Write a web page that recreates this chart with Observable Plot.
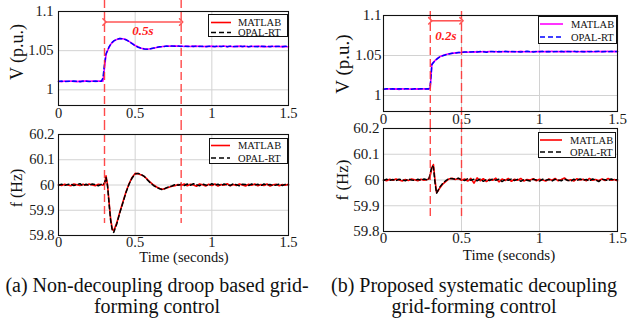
<!DOCTYPE html>
<html><head><meta charset="utf-8">
<script src="https://cdn.jsdelivr.net/npm/d3@7"></script>
<script src="https://cdn.jsdelivr.net/npm/@observablehq/plot@0.6"></script>
<style>
body{margin:0;background:#fff;}
#fig{position:relative;width:629px;height:326px;overflow:hidden;font-family:'Liberation Serif','Times New Roman',serif;color:#111;background:#fff;}
.panel{position:absolute;}
.lbl{position:absolute;white-space:nowrap;line-height:1;}
.ylbl{transform:translate(-50%,-50%) rotate(-90deg);}
.xlbl{transform:translate(-50%,-50%);}
.legend{position:absolute;}
.cap{position:absolute;text-align:center;line-height:21px;transform:translateX(-50%);white-space:nowrap;}
</style></head><body><div id="fig"></div>
<script>
// ---- data ----
const time = [0,0.02,0.04,0.06,0.08,0.1,0.12,0.14,0.16,0.18,0.2,0.22,0.24,0.26,0.28,0.29,0.3,0.31,0.32,0.33,0.34,0.35,0.36,0.38,0.4,0.42,0.44,0.46,0.48,0.5,0.52,0.54,0.56,0.58,0.6,0.62,0.64,0.66,0.68,0.7,0.72,0.74,0.76,0.78,0.8,0.82,0.84,0.86,0.88,0.9,0.92,0.94,0.96,0.98,1,1.02,1.04,1.06,1.08,1.1,1.12,1.14,1.16,1.18,1.2,1.22,1.24,1.26,1.28,1.3,1.32,1.34,1.36,1.38,1.4,1.42,1.44,1.46,1.48,1.5];

// (a) non-decoupling droop
const vMatlabA = [1.0110,1.0104,1.0112,1.0107,1.0113,1.0108,1.0105,1.0111,1.0108,1.0114,1.0109,1.0112,1.0106,1.0111,1.0109,
  1.0110,1.0280,1.0450,1.0500,1.0545,1.0578,1.0603,1.0622,
  1.0643,1.0654,1.0653,1.0641,1.0619,1.0592,1.0566,
  1.0546,1.0531,1.0523,1.0520,1.0524,1.0531,1.0540,1.0547,1.0553,1.0556,1.0559,1.0557,1.0561,1.0556,1.0560,
  1.0554,1.0559,1.0553,1.0558,1.0555,1.0560,1.0551,1.0557,1.0553,1.0558,
  1.0551,1.0556,1.0553,1.0559,1.0552,1.0557,1.0550,1.0555,1.0558,1.0552,
  1.0556,1.0551,1.0557,1.0553,1.0559,1.0552,1.0555,1.0550,1.0556,1.0553,
  1.0557,1.0551,1.0555,1.0552,1.0550];
const vOpalA = [1.0107,1.0112,1.0106,1.0111,1.0108,1.0113,1.0109,1.0104,1.0112,1.0109,1.0106,1.0110,1.0113,1.0107,1.0111,
  1.0150,1.0330,1.0460,1.0505,1.0548,1.0580,1.0606,1.0624,
  1.0645,1.0655,1.0652,1.0639,1.0617,1.0590,1.0564,
  1.0544,1.0530,1.0521,1.0519,1.0525,1.0533,1.0541,1.0549,1.0552,1.0558,1.0556,1.0560,1.0555,1.0559,1.0554,
  1.0558,1.0552,1.0557,1.0554,1.0559,1.0553,1.0556,1.0551,1.0557,1.0554,
  1.0552,1.0558,1.0553,1.0556,1.0551,1.0558,1.0554,1.0552,1.0557,1.0553,
  1.0558,1.0550,1.0556,1.0554,1.0551,1.0557,1.0553,1.0556,1.0551,1.0558,
  1.0553,1.0555,1.0550,1.0556,1.0553];
const fMatlabA = [60.002,59.998,60.003,60.000,59.997,60.004,60.001,59.998,60.003,59.999,60.004,60.000,59.997,60.003,60.001,
  59.999,60.004,60.036,60.000,59.930,59.866,59.828,59.818,
  59.850,59.893,59.933,59.972,60.005,60.030,60.046,
  60.045,60.040,60.033,60.022,60.010,60.000,59.992,59.986,59.983,59.987,59.991,59.995,59.997,60.002,59.998,
  60.004,59.997,60.003,60.000,59.995,60.004,60.001,59.996,60.003,59.998,
  60.004,59.996,60.002,59.999,60.005,59.997,60.002,59.998,60.004,60.000,
  59.996,60.003,59.999,60.004,59.997,60.002,59.998,60.004,59.996,60.001,
  60.003,59.997,60.002,59.999,60.003];
const fOpalA = [59.999,60.003,59.998,60.002,60.004,59.998,60.002,60.005,59.997,60.003,59.998,60.004,60.001,59.997,60.003,
  60.000,60.008,60.030,59.995,59.925,59.860,59.822,59.812,
  59.846,59.890,59.930,59.970,60.003,60.028,60.044,
  60.046,60.041,60.034,60.020,60.008,59.998,59.990,59.985,59.981,59.988,59.993,59.996,60.002,59.999,60.003,
  59.998,60.004,59.999,60.005,60.001,59.997,60.004,60.000,59.998,60.005,
  59.999,60.003,59.997,60.004,60.000,59.998,60.005,60.001,59.997,60.003,
  60.002,59.998,60.004,60.000,60.003,59.997,60.004,60.000,60.002,59.998,
  60.000,60.004,59.998,60.003,60.000];

// (b) proposed decoupling
const vMatlabB = [1.0082,1.0078,1.0085,1.0080,1.0083,1.0077,1.0084,1.0081,1.0079,1.0085,1.0080,1.0083,1.0078,1.0084,1.0081,
  1.0080,1.0100,1.0390,1.0415,1.0436,1.0455,1.0470,1.0484,
  1.0500,1.0512,1.0521,1.0527,1.0533,1.0536,1.0539,
  1.0543,1.0540,1.0546,1.0542,1.0548,1.0544,1.0549,1.0545,1.0551,1.0546,1.0550,1.0544,1.0549,1.0546,1.0551,
  1.0545,1.0550,1.0547,1.0552,1.0546,1.0549,1.0544,1.0550,1.0547,1.0552,
  1.0546,1.0551,1.0548,1.0553,1.0547,1.0550,1.0545,1.0551,1.0548,1.0553,
  1.0547,1.0550,1.0546,1.0552,1.0548,1.0553,1.0546,1.0550,1.0547,1.0552,
  1.0548,1.0553,1.0547,1.0551,1.0549];
const vOpalB = [1.0079,1.0084,1.0080,1.0083,1.0078,1.0085,1.0080,1.0083,1.0085,1.0079,1.0084,1.0081,1.0086,1.0080,1.0083,
  1.0082,1.0130,1.0385,1.0412,1.0433,1.0452,1.0468,1.0482,
  1.0498,1.0510,1.0520,1.0528,1.0531,1.0537,1.0538,
  1.0545,1.0541,1.0544,1.0547,1.0543,1.0549,1.0546,1.0542,1.0548,1.0551,1.0545,1.0550,1.0547,1.0552,1.0546,
  1.0551,1.0546,1.0549,1.0544,1.0550,1.0553,1.0547,1.0545,1.0551,1.0548,
  1.0552,1.0547,1.0550,1.0545,1.0551,1.0548,1.0553,1.0546,1.0550,1.0547,
  1.0552,1.0548,1.0551,1.0546,1.0550,1.0547,1.0552,1.0549,1.0553,1.0546,
  1.0550,1.0547,1.0552,1.0548,1.0550];
const fMatlabB = [60.001,59.997,60.003,59.999,60.004,60.000,59.996,60.002,59.998,60.004,60.001,59.997,60.003,59.999,60.002,
  60.004,60.018,60.045,60.060,60.002,59.952,59.958,59.968,
  59.984,59.995,60.004,60.007,60.002,60.006,59.999,
  60.004,59.996,60.006,59.988,60.008,59.997,60.005,59.994,60.003,59.999,60.007,59.993,60.004,59.998,60.006,
  59.995,60.003,59.999,60.006,59.996,60.002,60.000,60.005,59.997,60.003,
  60.000,59.996,60.004,59.999,60.006,59.997,60.002,60.008,59.998,60.001,
  59.996,60.005,60.000,60.003,59.997,60.006,59.999,60.002,59.997,60.004,
  59.998,60.006,59.999,60.002,59.997];
const fOpalB = [59.998,60.003,59.999,60.002,59.997,60.003,60.001,59.997,60.004,60.000,59.998,60.003,59.999,60.004,60.000,
  60.002,60.025,60.055,60.050,59.990,59.948,59.960,59.972,
  59.987,59.998,60.006,60.005,60.003,60.007,60.001,
  59.998,60.005,59.999,60.003,59.997,60.004,59.995,60.002,59.998,60.004,59.999,60.003,59.994,60.002,59.999,
  60.004,59.998,60.003,59.995,60.002,59.999,59.996,60.003,60.000,59.996,
  60.003,59.999,60.002,59.996,60.003,60.000,59.997,60.004,59.999,59.995,
  60.003,59.998,60.004,59.999,60.002,59.996,60.004,60.000,59.994,60.003,
  60.001,59.997,60.004,59.999,60.002];

const xTicks = [0, 0.5, 1, 1.5];
const vTicks = [1, 1.05, 1.1];
const fTicks = [59.8, 59.9, 60, 60.1, 60.2];
const vDomain = [0.98, 1.1];
const fDomain = [59.8, 60.2];
const markersA = [0.3, 0.8];
const markersB = [0.3, 0.5];
const spanA = [{x1: 0.3, x2: 0.8, y: 1.0866, label: "0.5s", lx: 0.55, ly: 1.0755}];
const spanB = [{x1: 0.3, x2: 0.5, y: 1.0934, label: "0.2s", lx: 0.4, ly: 1.0745}];
const seriesNames = ["MATLAB", "OPAL-RT"];
const captions = ["(a) Non-decoupling droop based grid-", "forming control", "(b) Proposed systematic decoupling", "grid-forming control"];

// ---- drawing ----
const fig = document.getElementById("fig");
const RED = "#ff2a2a";

function panel(o) {
  const rows = time.map((t, i) => ({t, mat: o.mat[i], opal: o.opal[i]}));
  const marks = [
    Plot.ruleX(xTicks, {stroke: "#d2d2d2", strokeWidth: 1}),
    Plot.ruleY(o.yTicks, {stroke: "#d2d2d2", strokeWidth: 1}),
    Plot.line(rows, {x: "t", y: "mat", stroke: o.matColor, strokeWidth: 1.6}),
    Plot.line(rows, {x: "t", y: "opal", stroke: o.opalColor, strokeWidth: 1.5, strokeDasharray: "4,3"}),
    Plot.ruleX(o.markers, {stroke: RED, strokeOpacity: 0.85, strokeWidth: 1.4, strokeDasharray: "8,4", insetTop: o.insetTop, insetBottom: o.insetBottom})
  ];
  if (o.span) {
    marks.push(Plot.link(o.span, {x1: "x1", x2: "x2", y1: "y", y2: "y", stroke: "#ff5555", strokeWidth: 1.6, markerStart: "arrow", markerEnd: "arrow"}));
    marks.push(Plot.text(o.span, {x: "lx", y: "ly", text: "label", fill: "#ff1a1a", fontWeight: "bold", fontStyle: "italic", fontSize: 13}));
  }
  marks.push(Plot.frame({stroke: "#111", strokeWidth: 1.1}));
  const svg = Plot.plot({
    width: o.width, height: o.height,
    marginLeft: o.ml, marginRight: o.mr, marginTop: o.mt, marginBottom: o.mb,
    x: {domain: [0, 1.5], ticks: xTicks, tickFormat: d => String(d), tickSize: 0, tickPadding: o.xPad, label: null},
    y: {domain: o.yDomain, ticks: o.yTicks, tickFormat: d => String(d), tickSize: 0, tickPadding: o.yPad, label: null},
    style: {fontFamily: "'Liberation Serif', serif", fontSize: o.fs + "px", color: "#1a1a1a", background: "transparent", overflow: "visible"},
    marks
  });
  const wrap = document.createElement("div");
  wrap.className = "panel";
  wrap.style.left = o.left + "px";
  wrap.style.top = o.top + "px";
  wrap.appendChild(svg);
  fig.appendChild(wrap);
}

function label(text, x, y, size, rot) {
  const d = document.createElement("div");
  d.className = "lbl " + (rot ? "ylbl" : "xlbl");
  d.style.left = x + "px"; d.style.top = y + "px"; d.style.fontSize = size + "px";
  d.textContent = text;
  fig.appendChild(d);
}

function legend(x, y, w, h, colors, rowY, lx0, lx1, tx) {
  const d = document.createElement("div");
  d.className = "legend";
  d.style.left = x + "px"; d.style.top = y + "px";
  const svg = d3.create("svg").attr("width", w).attr("height", h).style("display", "block");
  svg.append("rect").attr("x", 0.5).attr("y", 0.5).attr("width", w - 1).attr("height", h - 1).attr("fill", "#fff").attr("stroke", "#111").attr("stroke-width", 1);
  seriesNames.forEach((name, i) => {
    svg.append("line").attr("x1", lx0).attr("x2", lx1).attr("y1", rowY[i]).attr("y2", rowY[i])
      .attr("stroke", colors[i]).attr("stroke-width", 1.6).attr("stroke-dasharray", i ? "5,3" : null);
    svg.append("text").attr("x", tx).attr("y", rowY[i]).attr("dy", "0.35em").attr("font-size", 10.5)
      .attr("font-family", "'Liberation Serif', serif").attr("fill", "#111").text(name);
  });
  d.appendChild(svg.node());
  fig.appendChild(d);
}

// (a) voltage
panel({left: 0, top: 0, width: 300, height: 122, ml: 58, mr: 12, mt: 11, mb: 17, xPad: 2, yPad: 5, fs: 14.5,
  yDomain: vDomain, yTicks: vTicks, mat: vMatlabA, opal: vOpalA, matColor: "#ff00ff", opalColor: "#0000ff",
  markers: markersA, insetTop: -11, insetBottom: -17, span: spanA});
// (a) frequency
panel({left: 0, top: 122, width: 300, height: 148, ml: 58, mr: 12, mt: 12, mb: 35, xPad: 1, yPad: 4, fs: 14.5,
  yDomain: fDomain, yTicks: fTicks, mat: fMatlabA, opal: fOpalA, matColor: "#ff0000", opalColor: "#000000",
  markers: markersA, insetTop: -12, insetBottom: 12});
// (b) voltage
panel({left: 320, top: 0, width: 309, height: 124, ml: 63, mr: 12, mt: 15, mb: 13, xPad: 2, yPad: 2, fs: 15,
  yDomain: vDomain, yTicks: vTicks, mat: vMatlabB, opal: vOpalB, matColor: "#ff00ff", opalColor: "#0000ff",
  markers: markersB, insetTop: -4, insetBottom: -13, span: spanB});
// (b) frequency
panel({left: 320, top: 124, width: 309, height: 146, ml: 63, mr: 12, mt: 4, mb: 39, xPad: 1, yPad: 4, fs: 15,
  yDomain: fDomain, yTicks: fTicks, mat: fMatlabB, opal: fOpalB, matColor: "#ff0000", opalColor: "#000000",
  markers: markersB, insetTop: -4, insetBottom: 11});

// legends
legend(208, 14, 80, 23, ["#ff0000", "#000"], [8.5, 18.5], 3, 23, 30);
legend(209, 138, 79, 26, ["#ff0000", "#000"], [7.5, 20], 2, 21, 29);
legend(538, 16, 79, 28, ["#ff00ff", "#0000ff"], [8, 21], 2, 25, 33);
legend(538, 132, 78, 26, ["#ff0000", "#000"], [8, 20], 2, 24, 32);

// axis labels
label("V (p.u.)", 17, 52, 18, true);
label("f (Hz)", 17, 188, 16, true);
label("V (p.u.)", 342, 64, 19, true);
label("f (Hz)", 342, 180, 17, true);
label("Time (seconds)", 184, 257, 14.5, false);
label("Time (seconds)", 509, 255, 15, false);

// captions
function caption(l1, l2, cx, size) {
  const d = document.createElement("div");
  d.className = "cap";
  d.style.left = cx + "px"; d.style.top = "275px"; d.style.fontSize = size + "px";
  d.append(l1, document.createElement("br"), l2);
  fig.appendChild(d);
}
caption(captions[0], captions[1], 157, 20);
caption(captions[2], captions[3], 474, 20);
</script></body></html>
